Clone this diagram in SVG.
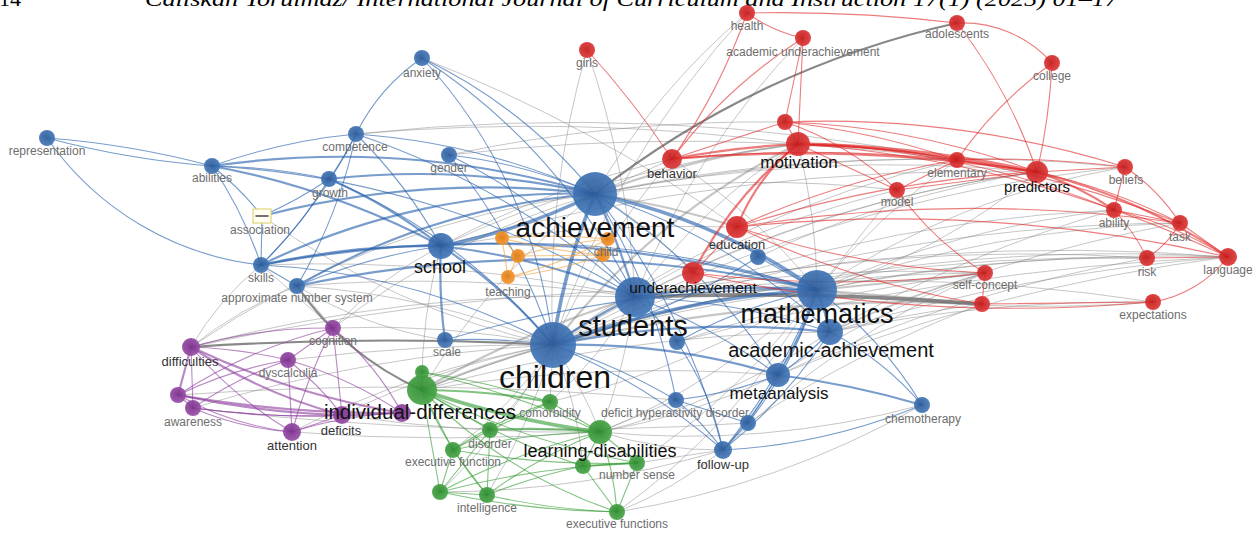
<svg xmlns="http://www.w3.org/2000/svg" width="1256" height="533" viewBox="0 0 1256 533">
<defs>
<radialGradient id="gb" cx="0.45" cy="0.45" r="0.6"><stop offset="0" stop-color="#2c5a98"/><stop offset="1" stop-color="#457bbd"/></radialGradient>
<radialGradient id="gr" cx="0.45" cy="0.45" r="0.6"><stop offset="0" stop-color="#c41a1a"/><stop offset="1" stop-color="#e03a3a"/></radialGradient>
<radialGradient id="gg" cx="0.45" cy="0.45" r="0.6"><stop offset="0" stop-color="#2e8a2e"/><stop offset="1" stop-color="#4aa84a"/></radialGradient>
<radialGradient id="gp" cx="0.45" cy="0.45" r="0.6"><stop offset="0" stop-color="#7a2f8a"/><stop offset="1" stop-color="#9a50aa"/></radialGradient>
<radialGradient id="go" cx="0.45" cy="0.45" r="0.6"><stop offset="0" stop-color="#e07a10"/><stop offset="1" stop-color="#f59a35"/></radialGradient>
</defs>
<style>
path{fill:none;stroke-linecap:round}
.eb path{stroke:#2560ab;stroke-opacity:.62;stroke-width:1.1}
.er path{stroke:#e02424;stroke-opacity:.6;stroke-width:1.1}
.eg path{stroke:#2f9a2f;stroke-opacity:.6;stroke-width:1.1}
.ep path{stroke:#8b3a9b;stroke-opacity:.6;stroke-width:1.1}
.eo path{stroke:#f0a040;stroke-opacity:.6;stroke-width:1.2}
.ex path{stroke:#808080;stroke-opacity:.45;stroke-width:1}
path.w2{stroke-width:2.2}
path.w3{stroke-width:3.6}
path.d{stroke:#555;stroke-opacity:.7}
.nb{fill:url(#gb);fill-opacity:.92}
.nr{fill:url(#gr);fill-opacity:.92}
.ng{fill:url(#gg);fill-opacity:.92}
.np{fill:url(#gp);fill-opacity:.92}
.no{fill:url(#go);fill-opacity:.92}
text{font-family:"Liberation Sans",Arial,sans-serif;text-anchor:middle}
.s{font-size:12px;fill:#6e6e6e}
.m{font-size:13px;fill:#333}
.l{fill:#111}
.hd{font-family:"Liberation Serif","Times New Roman",serif;text-anchor:start;fill:#000}
</style>
<rect width="1256" height="533" fill="#fff"/>
<text class="hd" x="-1" y="6" font-size="22">14</text>
<text class="hd" x="145" y="6" font-size="22" font-style="italic" textLength="973" lengthAdjust="spacingAndGlyphs">Caliskan Yorulmaz/ International Journal of Curriculum and Instruction 17(1) (2025) 01–17</text>
<g id="connectors">
<g class="ex">
<path d="M587 50A900 900 0 0 0 553 345"/>
<path d="M587 50A900 900 0 0 1 635 297"/>
<path d="M747 13A900 900 0 0 0 553 345"/>
<path d="M747 13A700 700 0 0 0 595 194"/>
<path d="M803 38A800 800 0 0 0 635 297"/>
<path d="M422 58A1500 1500 0 0 1 737 227"/>
<path d="M356 134A2000 2000 0 0 1 798 144"/>
<path d="M356 134A2000 2000 0 0 1 957 160"/>
<path d="M449 155A1500 1500 0 0 1 785 122"/>
<path d="M449 155A2000 2000 0 0 1 957 160"/>
<path class="w2" d="M595 194A900 900 0 0 1 798 144"/>
<path d="M595 194L672 159"/>
<path class="w2 d" d="M595 194A900 900 0 0 1 957 23"/>
<path d="M595 194A1500 1500 0 0 1 1037 172"/>
<path class="w2" d="M595 194A900 900 0 0 1 737 227"/>
<path d="M595 194A1200 1200 0 0 1 897 190"/>
<path d="M595 194A400 400 0 0 1 693 273"/>
<path d="M595 194A1500 1500 0 0 1 957 160"/>
<path d="M595 194A1800 1800 0 0 1 1125 167"/>
<path d="M553 345A1200 1200 0 0 1 1037 172"/>
<path d="M553 345A1100 1100 0 0 1 957 160"/>
<path d="M553 345A1000 1000 0 0 1 897 190"/>
<path d="M553 345A1300 1300 0 0 1 985 273"/>
<path class="w2" d="M553 345A1500 1500 0 0 1 982 304"/>
<path d="M553 345A1800 1800 0 0 1 1228 257"/>
<path class="w2" d="M553 345A700 700 0 0 1 798 144"/>
<path d="M553 345A800 800 0 0 1 672 159"/>
<path d="M553 345A1500 1500 0 0 1 1114 210"/>
<path d="M553 345A1700 1700 0 0 1 1180 223"/>
<path d="M553 345A1800 1800 0 0 1 1147 258"/>
<path d="M553 345A1500 1500 0 0 1 1125 167"/>
<path d="M635 297A1200 1200 0 0 1 1037 172"/>
<path d="M635 297A1500 1500 0 0 1 985 273"/>
<path d="M635 297A1800 1800 0 0 1 1153 302"/>
<path d="M635 297A600 600 0 0 1 798 144"/>
<path d="M635 297A2000 2000 0 0 1 1228 257"/>
<path d="M635 297A1800 1800 0 0 1 1147 258"/>
<path class="w3 d" d="M635 297A3000 3000 0 0 1 982 304"/>
<path d="M817 290A600 600 0 0 0 798 144"/>
<path d="M817 290A600 600 0 0 0 1037 172"/>
<path d="M817 290L897 190"/>
<path class="w2" d="M817 290L985 273"/>
<path class="w2" d="M817 290L982 304"/>
<path d="M817 290A1500 1500 0 0 0 1153 302"/>
<path d="M817 290A1500 1500 0 0 1 1147 258"/>
<path d="M817 290A800 800 0 0 1 1125 167"/>
<path d="M817 290A1200 1200 0 0 1 1180 223"/>
<path d="M817 290A1800 1800 0 0 1 1228 257"/>
<path d="M817 290A700 700 0 0 1 957 160"/>
<path d="M817 290A1000 1000 0 0 1 1114 210"/>
<path d="M672 159A600 600 0 0 1 817 290"/>
<path d="M830 332A900 900 0 0 1 985 273"/>
<path d="M830 332A1500 1500 0 0 1 982 304"/>
<path d="M830 332A1800 1800 0 0 1 1228 257"/>
<path d="M830 332A1200 1200 0 0 1 1114 210"/>
<path d="M830 332A1500 1500 0 0 1 1153 302"/>
<path d="M830 332A1500 1500 0 0 1 1180 223"/>
<path d="M778 375A900 900 0 0 1 985 273"/>
<path d="M778 375A1500 1500 0 0 1 1147 258"/>
<path d="M778 375A1800 1800 0 0 1 1228 257"/>
<path d="M441 246A1200 1200 0 0 1 798 144"/>
<path d="M441 246A900 900 0 0 1 672 159"/>
<path d="M441 246A1500 1500 0 0 1 737 227"/>
<path d="M441 246A2000 2000 0 0 1 1037 172"/>
<path class="w2 d" d="M191 347A3000 3000 0 0 1 553 345"/>
<path d="M191 347A2500 2500 0 0 1 817 290"/>
<path d="M191 347A900 900 0 0 1 595 194"/>
<path d="M191 347A1500 1500 0 0 1 635 297"/>
<path d="M191 347A300 300 0 0 1 261 265"/>
<path d="M333 328A900 900 0 0 1 553 345"/>
<path d="M333 328A800 800 0 0 1 595 194"/>
<path d="M333 328A400 400 0 0 1 441 246"/>
<path class="w2 d" d="M297 286A300 300 0 0 0 422 390"/>
<path class="w2" d="M422 390A900 900 0 0 1 553 345"/>
<path d="M422 390A1500 1500 0 0 1 817 290"/>
<path d="M422 390A700 700 0 0 1 595 194"/>
<path class="w2" d="M422 390A1000 1000 0 0 1 635 297"/>
<path d="M422 390A500 500 0 0 1 441 246"/>
<path d="M422 390A1500 1500 0 0 1 830 332"/>
<path d="M422 390A1500 1500 0 0 1 778 375"/>
<path d="M600 432A400 400 0 0 0 553 345"/>
<path d="M600 432A700 700 0 0 0 817 290"/>
<path d="M600 432A600 600 0 0 0 635 297"/>
<path d="M600 432A400 400 0 0 0 723 450"/>
<path d="M600 432A700 700 0 0 0 830 332"/>
<path d="M600 432A700 700 0 0 0 778 375"/>
<path d="M550 402L553 345"/>
<path d="M550 402A400 400 0 0 0 635 297"/>
<path d="M550 402A900 900 0 0 0 817 290"/>
<path d="M617 512A400 400 0 0 0 723 450"/>
<path d="M617 512A700 700 0 0 0 817 290"/>
<path d="M487 495A600 600 0 0 0 553 345"/>
<path d="M440 492A600 600 0 0 0 553 345"/>
<path d="M440 492A1000 1000 0 0 0 723 450"/>
<path d="M453 450A400 400 0 0 0 553 345"/>
<path d="M490 430A300 300 0 0 0 553 345"/>
<path d="M637 463L723 450"/>
<path d="M637 463A700 700 0 0 0 817 290"/>
<path d="M583 466A400 400 0 0 0 553 345"/>
<path d="M922 405A900 900 0 0 1 600 432"/>
<path d="M922 405A900 900 0 0 1 617 512"/>
<path d="M676 400L600 432"/>
<path d="M193 408A1500 1500 0 0 1 553 345"/>
<path d="M292 432A900 900 0 0 1 553 345"/>
<path d="M292 432A2000 2000 0 0 0 600 432"/>
<path d="M178 395A3000 3000 0 0 1 676 400"/>
<path d="M193 408A3000 3000 0 0 0 748 423"/>
<path d="M342 415A1500 1500 0 0 0 600 432"/>
<path d="M342 415A800 800 0 0 1 553 345"/>
<path d="M288 360A2000 2000 0 0 1 553 345"/>
<path d="M297 286A800 800 0 0 1 553 345"/>
<path d="M297 286A1500 1500 0 0 1 635 297"/>
<path d="M261 265A1500 1500 0 0 1 635 297"/>
<path d="M261 265L333 328"/>
<path d="M297 286L333 328"/>
<path d="M297 286A400 400 0 0 0 191 347"/>
<path d="M297 286A400 400 0 0 0 445 340"/>
<path d="M262 216A800 800 0 0 0 553 345"/>
<path d="M758 257A1000 1000 0 0 1 1037 172"/>
<path d="M677 342A1500 1500 0 0 1 985 273"/>
<path d="M677 342A2500 2500 0 0 1 1228 257"/>
<path d="M748 423A1200 1200 0 0 1 982 304"/>
<path d="M723 450A800 800 0 0 1 985 273"/>
</g>
<g class="eb">
<path class="w3" d="M595 194A600 600 0 0 1 441 246"/>
<path class="w3" d="M553 345A600 600 0 0 1 595 194"/>
<path class="w2" d="M595 194A600 600 0 0 1 635 297"/>
<path class="w3" d="M595 194A600 600 0 0 1 817 290"/>
<path d="M595 194A600 600 0 0 1 830 332"/>
<path class="w2" d="M329 179A800 800 0 0 1 595 194"/>
<path class="w2" d="M212 166A900 900 0 0 1 595 194"/>
<path d="M356 134A700 700 0 0 1 595 194"/>
<path class="w2" d="M261 265A700 700 0 0 1 595 194"/>
<path class="w2" d="M297 286A700 700 0 0 1 595 194"/>
<path d="M449 155A500 500 0 0 1 595 194"/>
<path d="M422 58A500 500 0 0 1 595 194"/>
<path d="M595 194A600 600 0 0 1 778 375"/>
<path d="M595 194A700 700 0 0 1 723 450"/>
<path class="w2" d="M553 345A500 500 0 0 1 635 297"/>
<path class="w3" d="M553 345A900 900 0 0 1 817 290"/>
<path class="w2" d="M553 345A900 900 0 0 1 830 332"/>
<path class="w2" d="M553 345A700 700 0 0 1 778 375"/>
<path class="w2" d="M441 246A500 500 0 0 1 553 345"/>
<path d="M445 340A600 600 0 0 1 553 345"/>
<path d="M553 345A600 600 0 0 1 676 400"/>
<path d="M553 345A600 600 0 0 1 723 450"/>
<path class="w2" d="M635 297A800 800 0 0 1 817 290"/>
<path d="M635 297A700 700 0 0 1 830 332"/>
<path d="M635 297A600 600 0 0 1 778 375"/>
<path class="w2" d="M441 246A700 700 0 0 1 635 297"/>
<path d="M635 297A300 300 0 0 1 677 342"/>
<path class="w2" d="M817 290A300 300 0 0 1 830 332"/>
<path class="w2" d="M817 290A400 400 0 0 1 778 375"/>
<path d="M817 290A400 400 0 0 1 922 405"/>
<path class="w2" d="M778 375A900 900 0 0 1 922 405"/>
<path d="M778 375A400 400 0 0 1 723 450"/>
<path d="M830 332A300 300 0 0 1 778 375"/>
<path d="M830 332A500 500 0 0 1 723 450"/>
<path class="w2" d="M212 166A800 800 0 0 1 441 246"/>
<path class="w2" d="M329 179A500 500 0 0 1 441 246"/>
<path class="w2" d="M261 265A800 800 0 0 1 441 246"/>
<path d="M297 286A600 600 0 0 1 441 246"/>
<path d="M356 134A500 500 0 0 1 441 246"/>
<path class="w2" d="M445 340A500 500 0 0 1 441 246"/>
<path d="M212 166A600 600 0 0 1 329 179"/>
<path d="M356 134A300 300 0 0 1 329 179"/>
<path d="M329 179A400 400 0 0 1 261 265"/>
<path d="M329 179A400 400 0 0 1 262 216"/>
<path d="M47 138A900 900 0 0 1 212 166"/>
<path d="M212 166A900 900 0 0 1 47 138"/>
<path d="M212 166A600 600 0 0 1 356 134"/>
<path d="M212 166A300 300 0 0 1 262 216"/>
<path d="M212 166A400 400 0 0 1 261 265"/>
<path d="M261 265A300 300 0 0 1 47 138"/>
<path d="M356 134A200 200 0 0 1 422 58"/>
<path d="M356 134A500 500 0 0 1 261 265"/>
<path d="M356 134A500 500 0 0 1 297 286"/>
<path d="M422 58A500 500 0 0 1 553 345"/>
<path d="M422 58A600 600 0 0 1 635 297"/>
<path d="M449 155A600 600 0 0 1 553 345"/>
<path d="M449 155A600 600 0 0 1 635 297"/>
<path d="M262 216L261 265"/>
<path class="w2" d="M262 216A900 900 0 0 1 595 194"/>
<path d="M261 265L297 286"/>
<path class="w2" d="M261 265A1200 1200 0 0 1 817 290"/>
<path class="w2" d="M297 286A1200 1200 0 0 1 817 290"/>
<path d="M445 340A1200 1200 0 0 1 817 290"/>
<path d="M676 400A300 300 0 0 1 723 450"/>
<path d="M676 400L748 423"/>
<path d="M748 423L723 450"/>
<path d="M723 450A600 600 0 0 0 817 290"/>
<path d="M723 450A600 600 0 0 0 922 405"/>
<path d="M758 257L817 290"/>
<path d="M758 257A700 700 0 0 1 553 345"/>
<path d="M677 342A300 300 0 0 1 723 450"/>
<path d="M677 342A500 500 0 0 1 817 290"/>
<path d="M356 134A800 800 0 0 1 635 297"/>
<path d="M212 166A900 900 0 0 1 635 297"/>
<path d="M329 179A600 600 0 0 1 553 345"/>
<path d="M261 265A700 700 0 0 1 553 345"/>
<path d="M441 246A1000 1000 0 0 1 817 290"/>
<path d="M595 194A600 600 0 0 1 676 400"/>
<path d="M748 423A400 400 0 0 0 817 290"/>
<path d="M830 332A300 300 0 0 1 922 405"/>
<path d="M778 375L748 423"/>
<path d="M778 375A400 400 0 0 1 676 400"/>
</g>
<g class="er">
<path d="M587 50A900 900 0 0 1 672 159"/>
<path d="M747 13A150 150 0 0 0 803 38"/>
<path d="M747 13A1500 1500 0 0 1 957 23"/>
<path d="M747 13A600 600 0 0 1 672 159"/>
<path d="M803 38A500 500 0 0 0 672 159"/>
<path d="M803 38L785 122"/>
<path d="M803 38L798 144"/>
<path d="M957 23A120 120 0 0 1 1052 63"/>
<path d="M957 23A500 500 0 0 1 1037 172"/>
<path d="M1052 63A600 600 0 0 1 1037 172"/>
<path d="M1052 63A400 400 0 0 0 957 160"/>
<path d="M785 122L798 144"/>
<path d="M785 122L672 159"/>
<path d="M785 122A800 800 0 0 1 1037 172"/>
<path d="M785 122A800 800 0 0 1 957 160"/>
<path d="M785 122A1000 1000 0 0 1 1125 167"/>
<path d="M785 122A300 300 0 0 1 897 190"/>
<path class="w2" d="M672 159A900 900 0 0 1 798 144"/>
<path class="w2" d="M798 144A900 900 0 0 1 957 160"/>
<path class="w3" d="M798 144A1200 1200 0 0 1 1037 172"/>
<path d="M798 144A900 900 0 0 1 1114 210"/>
<path d="M798 144A1100 1100 0 0 1 1180 223"/>
<path d="M798 144A1200 1200 0 0 1 1228 257"/>
<path d="M798 144L897 190"/>
<path class="w2" d="M798 144A200 200 0 0 0 737 227"/>
<path class="w2" d="M798 144A400 400 0 0 0 693 273"/>
<path class="w2" d="M672 159A1500 1500 0 0 1 1037 172"/>
<path d="M672 159A1400 1400 0 0 1 957 160"/>
<path class="w2" d="M957 160L1037 172"/>
<path d="M957 160L897 190"/>
<path d="M957 160A1000 1000 0 0 1 1125 167"/>
<path d="M1037 172L1125 167"/>
<path class="w2" d="M1037 172A300 300 0 0 1 1114 210"/>
<path d="M1037 172A600 600 0 0 1 1180 223"/>
<path class="w2" d="M1037 172A600 600 0 0 1 1228 257"/>
<path d="M1037 172L897 190"/>
<path d="M1125 167L1114 210"/>
<path d="M1125 167A200 200 0 0 1 1180 223"/>
<path d="M1114 210L1180 223"/>
<path d="M1114 210A200 200 0 0 1 1147 258"/>
<path d="M1114 210A400 400 0 0 1 1228 257"/>
<path d="M1180 223A100 100 0 0 1 1147 258"/>
<path d="M1180 223L1228 257"/>
<path d="M1147 258L1228 257"/>
<path d="M1228 257A120 120 0 0 1 1153 302"/>
<path d="M897 190A300 300 0 0 0 985 273"/>
<path d="M737 227A1200 1200 0 0 1 1037 172"/>
<path d="M737 227A1500 1500 0 0 1 1180 223"/>
<path d="M737 227A1500 1500 0 0 1 1228 257"/>
<path d="M737 227A900 900 0 0 0 985 273"/>
<path d="M737 227A900 900 0 0 0 982 304"/>
<path d="M737 227L693 273"/>
<path d="M737 227A900 900 0 0 1 957 160"/>
<path d="M693 273A1500 1500 0 0 0 1153 302"/>
<path d="M693 273A1200 1200 0 0 0 985 273"/>
<path d="M985 273L982 304"/>
<path d="M982 304L1153 302"/>
</g>
<g class="ep">
<path d="M191 347A500 500 0 0 1 333 328"/>
<path d="M191 347A500 500 0 0 1 288 360"/>
<path class="w2" d="M191 347L178 395"/>
<path d="M191 347L193 408"/>
<path d="M191 347A400 400 0 0 0 292 432"/>
<path class="w2" d="M191 347A500 500 0 0 0 342 415"/>
<path class="w2" d="M191 347A800 800 0 0 0 402 413"/>
<path d="M333 328L288 360"/>
<path d="M333 328A500 500 0 0 0 178 395"/>
<path d="M333 328A500 500 0 0 0 292 432"/>
<path d="M333 328L342 415"/>
<path d="M333 328A300 300 0 0 1 402 413"/>
<path d="M288 360A400 400 0 0 0 178 395"/>
<path d="M288 360A400 400 0 0 0 193 408"/>
<path d="M288 360L292 432"/>
<path d="M288 360A300 300 0 0 1 342 415"/>
<path d="M288 360A400 400 0 0 1 402 413"/>
<path d="M178 395L193 408"/>
<path d="M178 395A300 300 0 0 0 292 432"/>
<path class="w2" d="M178 395A900 900 0 0 0 342 415"/>
<path class="w2" d="M178 395A1200 1200 0 0 0 402 413"/>
<path d="M193 408A300 300 0 0 0 292 432"/>
<path d="M193 408A800 800 0 0 0 342 415"/>
<path d="M193 408A1000 1000 0 0 0 402 413"/>
<path d="M292 432L342 415"/>
<path d="M292 432A400 400 0 0 1 402 413"/>
<path d="M342 415L402 413"/>
</g>
<g class="eg">
<path d="M422 390L422 372"/>
<path class="w2" d="M422 390A700 700 0 0 1 550 402"/>
<path d="M422 390L490 430"/>
<path d="M422 390L453 450"/>
<path class="w3" d="M422 390A900 900 0 0 0 600 432"/>
<path d="M422 390A700 700 0 0 0 583 466"/>
<path d="M422 390A800 800 0 0 0 637 463"/>
<path d="M422 390L440 492"/>
<path d="M422 390A400 400 0 0 0 487 495"/>
<path d="M422 390A500 500 0 0 0 617 512"/>
<path d="M422 372A900 900 0 0 1 600 432"/>
<path d="M422 372A800 800 0 0 1 550 402"/>
<path d="M550 402L600 432"/>
<path d="M550 402L490 430"/>
<path d="M550 402A400 400 0 0 0 453 450"/>
<path d="M490 430L453 450"/>
<path class="w2" d="M490 430A800 800 0 0 1 600 432"/>
<path d="M490 430L440 492"/>
<path d="M490 430L487 495"/>
<path d="M453 450L440 492"/>
<path d="M453 450L487 495"/>
<path d="M453 450A700 700 0 0 1 600 432"/>
<path d="M600 432L583 466"/>
<path d="M600 432L637 463"/>
<path d="M600 432A300 300 0 0 1 617 512"/>
<path d="M600 432A500 500 0 0 0 487 495"/>
<path d="M600 432A700 700 0 0 0 440 492"/>
<path class="w2" d="M583 466L637 463"/>
<path d="M583 466L617 512"/>
<path d="M583 466A600 600 0 0 0 487 495"/>
<path d="M637 463L617 512"/>
<path d="M440 492L487 495"/>
<path d="M440 492A900 900 0 0 0 617 512"/>
<path d="M487 495A700 700 0 0 0 617 512"/>
<path d="M440 492A900 900 0 0 1 637 463"/>
<path d="M453 450A900 900 0 0 0 637 463"/>
</g>
<g class="eo">
<path d="M502 238L518 256"/>
<path d="M502 238L508 277"/>
<path d="M502 238A600 600 0 0 1 608 239"/>
<path d="M502 238A600 600 0 0 0 603 255"/>
<path d="M518 256A500 500 0 0 1 608 239"/>
<path d="M518 256L603 255"/>
<path d="M508 277A400 400 0 0 0 608 239"/>
<path d="M508 277A400 400 0 0 0 603 255"/>
<path d="M518 256L508 277"/>
<path d="M608 239L603 255"/>
</g>
</g>
<g id="n-representation"><circle class="nb" cx="47" cy="138" r="8"/><text class="s" x="47" y="155">representation</text></g>
<g id="n-abilities"><circle class="nb" cx="212" cy="166" r="8"/><text class="s" x="212" y="182">abilities</text></g>
<g id="n-competence"><circle class="nb" cx="356" cy="134" r="8"/><text class="s" x="355" y="151">competence</text></g>
<g id="n-growth"><circle class="nb" cx="329" cy="179" r="8"/><text class="s" x="330" y="197">growth</text></g>
<g id="n-anxiety"><circle class="nb" cx="422" cy="58" r="8"/><text class="s" x="422" y="77">anxiety</text></g>
<g id="n-gender"><circle class="nb" cx="449" cy="155" r="8"/><text class="s" x="449" y="172">gender</text></g>
<g id="n-association"><rect x="253" y="209" width="18" height="14" fill="#fffef0" stroke="#e2d67a" stroke-width="1.2"/><path d="M256 216h12" stroke="#444" stroke-width="1.5"/><text class="s" x="260" y="234">association</text></g>
<g id="n-skills"><circle class="nb" cx="261" cy="265" r="8"/><text class="s" x="261" y="282">skills</text></g>
<g id="n-approximate-number-system"><circle class="nb" cx="297" cy="286" r="8"/><text class="s" x="297" y="302">approximate number system</text></g>
<g id="n-teaching"><circle class="no" cx="508" cy="277" r="7"/><text class="s" x="508" y="296">teaching</text></g>
<g id="n-o1"><circle class="no" cx="502" cy="238" r="7"/></g>
<g id="n-o2"><circle class="no" cx="518" cy="256" r="7"/></g>
<g id="n-o5"><circle class="no" cx="603" cy="255" r="7"/></g>
<g id="n-child"><circle class="no" cx="608" cy="239" r="7"/><text class="s" x="606" y="256">child</text></g>
<g id="n-cognition"><circle class="np" cx="333" cy="328" r="8"/><text class="s" x="333" y="345">cognition</text></g>
<g id="n-dyscalculia"><circle class="np" cx="288" cy="360" r="8"/><text class="s" x="288" y="377">dyscalculia</text></g>
<g id="n-difficulties"><circle class="np" cx="191" cy="347" r="9"/><text class="m" x="190" y="366" font-size="14">difficulties</text></g>
<g id="n-p1"><circle class="np" cx="178" cy="395" r="8"/></g>
<g id="n-awareness"><circle class="np" cx="193" cy="408" r="8"/><text class="s" x="193" y="426">awareness</text></g>
<g id="n-attention"><circle class="np" cx="292" cy="432" r="9"/><text class="m" x="292" y="450">attention</text></g>
<g id="n-p2"><circle class="np" cx="402" cy="413" r="9"/></g>
<g id="n-deficits"><circle class="np" cx="342" cy="415" r="9"/><text class="m" x="341" y="435" font-size="14.5" fill="#222">deficits</text></g>
<g id="n-scale"><circle class="nb" cx="445" cy="340" r="8"/><text class="s" x="447" y="356">scale</text></g>
<g id="n-g2"><circle class="ng" cx="422" cy="372" r="7"/></g>
<g id="n-comorbidity"><circle class="ng" cx="550" cy="402" r="8"/><text class="s" x="550" y="417">comorbidity</text></g>
<g id="n-disorder"><circle class="ng" cx="490" cy="430" r="8"/><text class="s" x="490" y="448" fill="#555">disorder</text></g>
<g id="n-executive-function"><circle class="ng" cx="453" cy="450" r="8"/><text class="s" x="453" y="466">executive function</text></g>
<g id="n-g3"><circle class="ng" cx="583" cy="466" r="8"/></g>
<g id="n-number-sense"><circle class="ng" cx="637" cy="463" r="8"/><text class="s" x="637" y="479">number sense</text></g>
<g id="n-g4"><circle class="ng" cx="440" cy="492" r="8"/></g>
<g id="n-intelligence"><circle class="ng" cx="487" cy="495" r="8"/><text class="s" x="487" y="512">intelligence</text></g>
<g id="n-executive-functions"><circle class="ng" cx="617" cy="512" r="8"/><text class="s" x="617" y="528">executive functions</text></g>
<g id="n-deficit-hyperactivity-disorder"><circle class="nb" cx="676" cy="400" r="8"/><text class="s" x="675" y="417">deficit hyperactivity disorder</text></g>
<g id="n-b2"><circle class="nb" cx="748" cy="423" r="8"/></g>
<g id="n-follow-up"><circle class="nb" cx="723" cy="450" r="9"/><text class="m" x="723" y="469" font-size="12.5">follow-up</text></g>
<g id="n-chemotherapy"><circle class="nb" cx="922" cy="405" r="8"/><text class="s" x="923" y="423">chemotherapy</text></g>
<g id="n-b-edu"><circle class="nb" cx="758" cy="257" r="8"/></g>
<g id="n-b-gap"><circle class="nb" cx="677" cy="342" r="8"/></g>
<g id="n-girls"><circle class="nr" cx="587" cy="50" r="8"/><text class="s" x="587" y="67">girls</text></g>
<g id="n-health"><circle class="nr" cx="747" cy="13" r="8"/><text class="s" x="747" y="30">health</text></g>
<g id="n-academic-underachievement"><circle class="nr" cx="803" cy="38" r="8"/><text class="s" x="803" y="56">academic underachievement</text></g>
<g id="n-adolescents"><circle class="nr" cx="957" cy="23" r="8"/><text class="s" x="957" y="38">adolescents</text></g>
<g id="n-college"><circle class="nr" cx="1052" cy="63" r="8"/><text class="s" x="1052" y="80">college</text></g>
<g id="n-r1"><circle class="nr" cx="785" cy="122" r="8"/></g>
<g id="n-elementary"><circle class="nr" cx="957" cy="160" r="8"/><text class="s" x="957" y="177">elementary</text></g>
<g id="n-beliefs"><circle class="nr" cx="1125" cy="167" r="8"/><text class="s" x="1126" y="184">beliefs</text></g>
<g id="n-model"><circle class="nr" cx="897" cy="190" r="8"/><text class="s" x="897" y="206">model</text></g>
<g id="n-ability"><circle class="nr" cx="1114" cy="210" r="8"/><text class="s" x="1114" y="227">ability</text></g>
<g id="n-task"><circle class="nr" cx="1180" cy="223" r="8"/><text class="s" x="1180" y="241">task</text></g>
<g id="n-risk"><circle class="nr" cx="1147" cy="258" r="8"/><text class="s" x="1147" y="276">risk</text></g>
<g id="n-language"><circle class="nr" cx="1228" cy="257" r="9"/><text class="s" x="1228" y="274">language</text></g>
<g id="n-self-concept"><circle class="nr" cx="985" cy="273" r="8"/><text class="s" x="985" y="289">self-concept</text></g>
<g id="n-r2"><circle class="nr" cx="982" cy="304" r="8"/></g>
<g id="n-expectations"><circle class="nr" cx="1153" cy="302" r="8"/><text class="s" x="1153" y="319">expectations</text></g>
<g id="n-behavior"><circle class="nr" cx="672" cy="159" r="10"/><text class="m" x="672" y="178" font-size="14">behavior</text></g>
<g id="n-predictors"><circle class="nr" cx="1037" cy="172" r="11"/><text class="l" x="1037" y="192" font-size="15">predictors</text></g>
<g id="n-motivation"><circle class="nr" cx="798" cy="144" r="12"/><text class="l" x="799" y="168" font-size="17">motivation</text></g>
<g id="n-school"><circle class="nb" cx="441" cy="246" r="13"/><text class="l" x="440" y="273" font-size="18">school</text></g>
<g id="n-metaanalysis"><circle class="nb" cx="778" cy="375" r="12"/><text class="l" x="779" y="399" font-size="17" fill="#222">metaanalysis</text></g>
<g id="n-academic-achievement"><circle class="nb" cx="830" cy="332" r="13"/><text class="l" x="831" y="357" font-size="20">academic-achievement</text></g>
<g id="n-mathematics"><circle class="nb" cx="817" cy="290" r="20"/><text class="l" x="817" y="323" font-size="27">mathematics</text></g>
<g id="n-students"><circle class="nb" cx="635" cy="297" r="20"/><text class="l" x="633" y="336" font-size="29">students</text></g>
<g id="n-education"><circle class="nr" cx="737" cy="227" r="11"/><text class="m" x="737" y="249" font-size="15" fill="#222">education</text></g>
<g id="n-underachievement"><circle class="nr" cx="693" cy="273" r="11"/><text class="l" x="693" y="293" font-size="15.5" fill="#222">underachievement</text></g>
<g id="n-individual-differences"><circle class="ng" cx="422" cy="390" r="15"/><text class="l" x="420" y="419" font-size="20.5">individual-differences</text></g>
<g id="n-learning-disabilities"><circle class="ng" cx="600" cy="432" r="12"/><text class="l" x="600" y="457" font-size="18">learning-disabilities</text></g>
<g id="n-children"><circle class="nb" cx="553" cy="345" r="23"/><text class="l" x="555" y="388" font-size="32">children</text></g>
<g id="n-achievement"><circle class="nb" cx="595" cy="194" r="22"/><text class="l" x="595" y="237" font-size="28">achievement</text></g>
</svg>
